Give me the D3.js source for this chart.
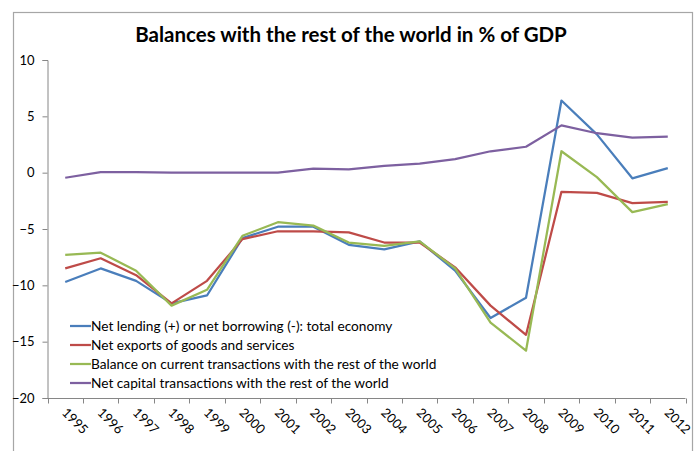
<!DOCTYPE html>
<html>
<head>
<meta charset="utf-8">
<script src="https://cdn.jsdelivr.net/npm/d3@7"></script>
<style>
  html, body { margin: 0; padding: 0; background: #fff; }
  svg { display: block; font-family: Lato, "Open Sans", sans-serif; }
</style>
</head>
<body>
<div id="chart"></div>
<script>
// Balances with the rest of the world, % of GDP
const years = ["1995","1996","1997","1998","1999","2000","2001","2002","2003","2004","2005","2006","2007","2008","2009","2010","2011","2012"];
const netLending     = [-9.7, -8.5, -9.6, -11.6, -10.9, -5.8, -4.8, -4.8, -6.4, -6.8, -6.1, -8.7, -12.9, -11.1, 6.4, 3.4, -0.5, 0.4];
const netExports     = [-8.5, -7.6, -9.1, -11.6, -9.6, -5.9, -5.2, -5.2, -5.3, -6.2, -6.2, -8.4, -11.8, -14.4, -1.7, -1.8, -2.7, -2.6];
const currentBalance = [-7.3, -7.1, -8.7, -11.8, -10.4, -5.6, -4.4, -4.7, -6.2, -6.5, -6.1, -8.5, -13.3, -15.8, 1.9, -0.4, -3.5, -2.8];
const netCapital     = [-0.45, 0.05, 0.05, 0, 0, 0, 0, 0.35, 0.3, 0.6, 0.8, 1.2, 1.9, 2.3, 4.2, 3.5, 3.1, 3.2];
const yTicks = [-20, -15, -10, -5, 0, 5, 10];

const seriesNames = [
  "Net lending (+) or net borrowing (-): total economy",
  "Net exports of goods and services",
  "Balance on current transactions with the rest of the world",
  "Net capital transactions with the rest of the world"
];
const seriesValues = [netLending, netExports, currentBalance, netCapital];
const colors = ["#4A7EBB", "#BE4B48", "#98B954", "#7D60A0"];

const W = 695, H = 451;
const svg = d3.select("#chart").append("svg").attr("width", W).attr("height", H);

// chart frame
svg.append("rect")
  .attr("x", 13.5).attr("y", 12.5)
  .attr("width", 679).attr("height", 460)
  .attr("fill", "none").attr("stroke", "#a6a6a6").attr("stroke-width", 1.2);

svg.append("text")
  .attr("x", 351).attr("y", 42)
  .attr("text-anchor", "middle")
  .attr("font-size", 20.5).attr("font-weight", "bold")
  .attr("fill", "#000")
  .text("Balances with the rest of the world in % of GDP");

const x = d3.scaleBand().domain(years).range([47.5, 685.5]);
const y = d3.scaleLinear().domain([-20, 10]).range([398, 60]);
const cx = d => x(d) + x.bandwidth() / 2;

// y axis
const gy = svg.append("g").attr("transform", "translate(47.5,0)")
  .call(d3.axisLeft(y).tickValues(yTicks).tickSize(5).tickPadding(8).tickFormat(d3.format("d")));
gy.select(".domain").attr("stroke", "#868686").attr("stroke-width", 1);
gy.selectAll(".tick line").attr("stroke", "#868686");
gy.selectAll(".tick text").attr("font-size", 13).attr("fill", "#000")
  .attr("font-family", "Lato, sans-serif");

// x axis: ticks sit on the category boundaries
const gx = svg.append("g").attr("transform", "translate(0,398.5)");
gx.append("line").attr("x1", 47.5).attr("x2", 685.5)
  .attr("stroke", "#868686");
const bounds = years.map(d => x(d)).concat([x(years[years.length - 1]) + x.bandwidth()]);
gx.selectAll("line.tk").data(bounds).join("line").attr("class", "tk")
  .attr("x1", d => Math.round(d) + 0.5).attr("x2", d => Math.round(d) + 0.5)
  .attr("y1", 0).attr("y2", 5).attr("stroke", "#868686");
gx.selectAll("text").data(years).join("text")
  .attr("transform", d => `translate(${cx(d) - 4},${15}) rotate(45)`)
  .attr("font-size", 13).attr("fill", "#000")
  .text(d => d);

// series lines
const line = d3.line().x((v, i) => cx(years[i])).y(v => y(v));
seriesValues.forEach((vals, k) => {
  svg.append("path").datum(vals)
    .attr("d", line)
    .attr("fill", "none")
    .attr("stroke", colors[k])
    .attr("stroke-width", 2.25)
    .attr("stroke-linejoin", "round");
});

// legend
const lg = svg.append("g").attr("transform", "translate(70,326)");
seriesNames.forEach((name, k) => {
  const row = lg.append("g").attr("transform", `translate(0,${k * 19})`);
  row.append("line").attr("x1", 0).attr("x2", 21).attr("y1", 0).attr("y2", 0)
    .attr("stroke", colors[k]).attr("stroke-width", 2.25);
  row.append("text").attr("x", 21).attr("y", 5)
    .attr("font-size", 13.7).attr("fill", "#000").text(name);
});
</script>
</body>
</html>
